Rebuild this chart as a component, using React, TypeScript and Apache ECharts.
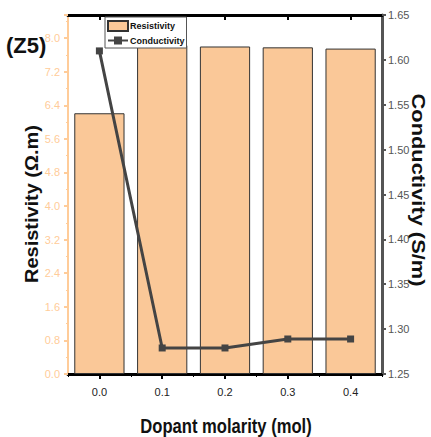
import React, { useEffect, useRef } from "react";
import * as echarts from "echarts";

const categories = ["0.0", "0.1", "0.2", "0.3", "0.4"];
const resistivity = [6.21, 7.83, 7.8, 7.78, 7.75];
const conductivity = [1.61, 1.279, 1.279, 1.289, 1.289];

const SANS = '"Liberation Sans", Arial, sans-serif';

export default function App() {
  const ref = useRef<HTMLDivElement>(null);
  useEffect(() => {
    if (!ref.current) return;
    const chart = echarts.init(ref.current, undefined, { renderer: "svg" });
    chart.setOption({
      animation: false,
      backgroundColor: "#ffffff",
      grid: { left: 68, right: 49, top: 15, bottom: 63 },
      graphic: [
        {
          type: "text",
          x: 6,
          y: 34,
          style: { text: "(Z5)", font: `bold 22px ${SANS}`, fill: "#111" },
        },
        {
          type: "text",
          x: 226,
          y: 426,
          scaleX: 0.83,
          style: {
            text: "Dopant molarity (mol)",
            font: `bold 20px ${SANS}`,
            fill: "#111",
            align: "center",
            verticalAlign: "middle",
          },
        },
        {
          type: "text",
          x: 31,
          y: 204,
          rotation: Math.PI / 2,
          scaleX: 1.05,
          style: {
            text: "Resistivity (Ω.m)",
            font: `bold 19px ${SANS}`,
            fill: "#111",
            align: "center",
            verticalAlign: "middle",
          },
        },
        {
          type: "text",
          x: 419,
          y: 190,
          rotation: -Math.PI / 2,
          scaleX: 1.15,
          style: {
            text: "Conductivity (S/m)",
            font: `bold 19px ${SANS}`,
            fill: "#111",
            align: "center",
            verticalAlign: "middle",
          },
        },
      ],
      legend: {
        left: 105,
        top: 17,
        orient: "vertical",
        itemGap: 4,
        itemWidth: 20,
        itemHeight: 10,
        padding: [3, 2, 3, 2],
        borderColor: "#555",
        borderWidth: 1,
        backgroundColor: "#fff",
        textStyle: { fontFamily: SANS, fontWeight: "bold", fontSize: 9, color: "#111", padding: [0, 0, 0, -3] },
        data: [
          { name: "Resistivity", icon: "rect" },
          { name: "Conductivity" },
        ],
      },
      xAxis: [
        {
          type: "category",
          data: categories,
          position: "bottom",
          axisLine: { show: true, lineStyle: { color: "#000", width: 3 } },
          axisTick: { show: true, alignWithLabel: true, length: 5, lineStyle: { color: "#000", width: 2 } },
          axisLabel: { fontFamily: SANS, fontSize: 11, color: "#222", margin: 12 },
          splitLine: { show: false },
        },
        {
          type: "category",
          data: categories,
          position: "bottom",
          axisLine: { show: false },
          axisTick: { show: true, length: 3, lineStyle: { color: "#000", width: 1 } },
          axisLabel: { show: false },
        },
        {
          type: "category",
          data: categories,
          position: "top",
          axisLine: { show: true, lineStyle: { color: "#000", width: 3 } },
          axisTick: { show: true, alignWithLabel: true, inside: true, length: 5, lineStyle: { color: "#000", width: 2 } },
          axisLabel: { show: false },
        },
      ],
      yAxis: [
        {
          type: "value",
          min: 0,
          max: 8.55,
          interval: 0.8,
          position: "left",
          axisLine: { show: true, lineStyle: { color: "#FFCC99", width: 2 } },
          axisTick: { show: true, length: 4, lineStyle: { color: "#FFCC99", width: 2 } },
          minorTick: { show: true, splitNumber: 2, length: 2, lineStyle: { color: "#FFCC99", width: 1 } },
          axisLabel: {
            fontFamily: SANS,
            fontSize: 11,
            color: "#FFCC99",
            margin: 8,
            formatter: (v: number) => (v > 8.01 ? "" : v.toFixed(1)),
          },
          splitLine: { show: false },
        },
        {
          type: "value",
          min: 1.25,
          max: 1.65,
          interval: 0.05,
          position: "right",
          axisLine: { show: true, lineStyle: { color: "#555", width: 3 } },
          axisTick: { show: true, length: 4, lineStyle: { color: "#555", width: 2 } },
          minorTick: { show: true, splitNumber: 2, length: 2, lineStyle: { color: "#555", width: 1 } },
          axisLabel: {
            fontFamily: SANS,
            fontSize: 11,
            color: "#555",
            margin: 6,
            formatter: (v: number) => v.toFixed(2),
          },
          splitLine: { show: false },
        },
      ],
      series: [
        {
          name: "Resistivity",
          type: "bar",
          xAxisIndex: 0,
          yAxisIndex: 0,
          data: resistivity,
          barCategoryGap: "20%",
          itemStyle: { color: "#FAC898", borderColor: "#333", borderWidth: 1 },
        },
        {
          name: "Conductivity",
          type: "line",
          xAxisIndex: 0,
          yAxisIndex: 1,
          data: conductivity,
          symbol: "rect",
          symbolSize: 7,
          lineStyle: { color: "#444", width: 3 },
          itemStyle: { color: "#444" },
        },
      ],
    });
    return () => chart.dispose();
  }, []);
  return <div ref={ref} style={{ width: 431, height: 437, position: "absolute", left: 0, top: 0 }} />;
}
